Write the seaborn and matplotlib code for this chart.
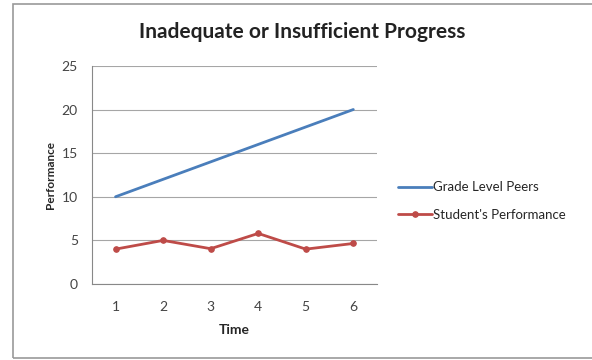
import numpy as np
import pandas as pd
import matplotlib
matplotlib.use("Agg")
import matplotlib.pyplot as plt
import seaborn as sns
from matplotlib.patches import Rectangle

time = [1, 2, 3, 4, 5, 6]
peers = [10, 12, 14, 16, 18, 20]
student = [4.0, 5.0, 4.05, 5.8, 4.0, 4.65]
y_ticks = [0, 5, 10, 15, 20, 25]

sns.set_style("white")
plt.rcParams['font.family'] = ['Lato', 'DejaVu Sans']

fig = plt.figure(figsize=(5.92, 3.6), dpi=100)
ax = fig.add_axes([0.155, 0.211, 0.482, 0.606])

sns.lineplot(x=time, y=peers, ax=ax, color='#4A7EBB', linewidth=2,
             label='Grade Level Peers')
sns.lineplot(x=time, y=student, ax=ax, color='#BE4B48', linewidth=2,
             marker='o', markersize=4, markeredgecolor='#BE4B48',
             label="Student's Performance")

ax.set_xlim(0.5, 6.5)
ax.set_ylim(0, 25)
ax.set_yticks(y_ticks)
ax.set_xticks(time)
ax.set_xticks(np.arange(0.5, 7, 1), minor=True)
ax.tick_params(axis='x', which='major', length=0, labelsize=10, pad=12, colors='#444444')
ax.tick_params(axis='x', which='minor', length=4, color='#888888', direction='out')
ax.tick_params(axis='y', length=5, color='#888888', direction='out', labelsize=10,
               pad=5, colors='#444444')
ax.yaxis.grid(True, color='#a6a6a6', linewidth=0.8)
ax.set_axisbelow(True)
for s in ['top', 'right']:
    ax.spines[s].set_visible(False)
for s in ['left', 'bottom']:
    ax.spines[s].set_color('#888888')
    ax.spines[s].set_linewidth(0.8)

ax.set_xlabel('Time', fontsize=10, fontweight='bold', labelpad=8)
ax.set_ylabel('Performance', fontsize=8.5, fontweight='bold', labelpad=4)
fig.text(0.51, 0.91, 'Inadequate or Insufficient Progress', ha='center', va='center',
         fontsize=15, fontweight='bold', color='#222222')

ax.legend(loc='center left', bbox_to_anchor=(1.03, 0.38), frameon=False,
          fontsize=9.5, handlelength=2.6, handletextpad=0.1, labelspacing=1.2)

fig.patches.append(Rectangle((0.022, 0.006), 0.985, 0.983, transform=fig.transFigure,
                             fill=False, edgecolor='#999999', linewidth=1.2))

fig.savefig('out.png', dpi=100)
